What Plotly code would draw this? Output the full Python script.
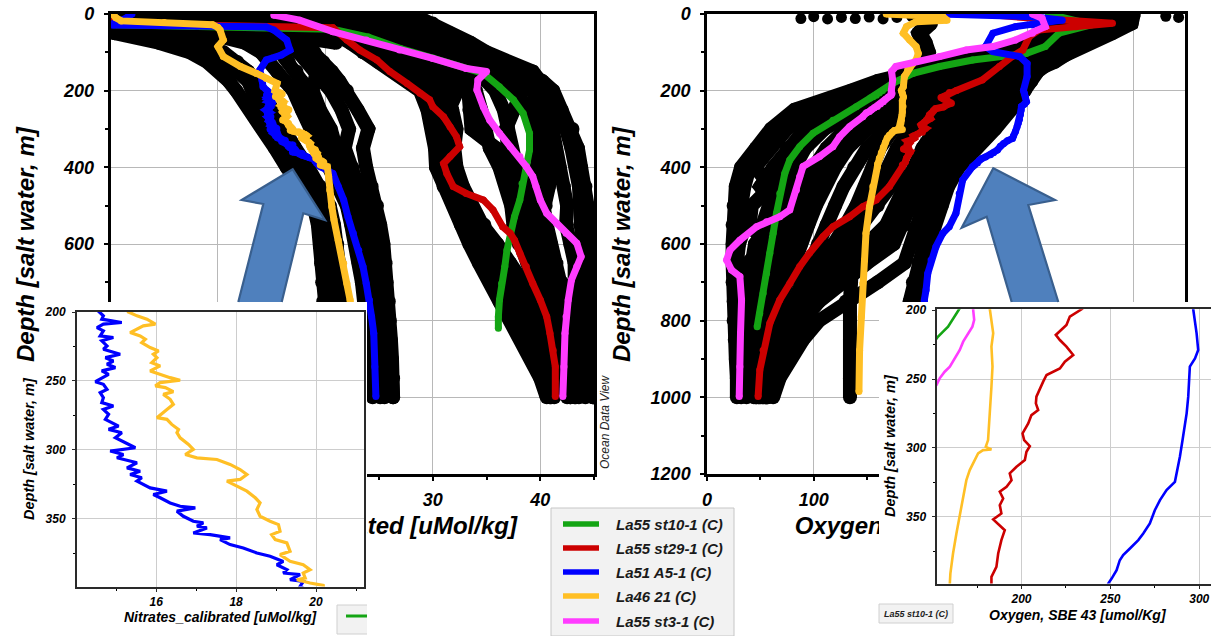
import plotly.graph_objects as go

# ============================================================
# Station profiles, left panel: nitrate (uMol/kg) vs depth (m)
# ============================================================
NO3_GREEN_D = [28, 32, 36, 40, 60, 90, 115, 142, 155, 190, 224, 259, 311, 355, 398, 442,
               485, 529, 572, 616, 659, 703, 746, 790, 820]
NO3_GREEN = [0.5, 8.0, 17.6, 20.7, 24.0, 27.0, 30.0, 33.1, 34.7, 36.2, 37.5, 38.4, 39.0, 39.0,
             38.7, 38.3, 38.1, 37.6, 37.2, 36.9, 36.7, 36.4, 36.2, 36.1, 36.1]

NO3_RED_D = [10, 25, 30, 36, 68, 94, 120, 150, 181, 207, 224, 242, 268, 294, 320, 346, 372,
             390, 416, 450, 468, 485, 511, 555, 572, 590, 624, 659, 703, 746, 790, 833, 877,
             920, 998]
NO3_RED = [0.3, 1.0, 10.0, 20.7, 22.0, 23.2, 24.8, 26.0, 27.6, 28.8, 29.7, 30.0, 31.0, 31.6,
           32.2, 32.5, 31.6, 31.0, 31.3, 31.9, 33.1, 34.7, 35.6, 36.5, 37.2, 37.6, 38.1, 38.7,
           39.3, 40.0, 40.6, 40.9, 41.2, 41.4, 41.4]

NO3_BLUE_TOP_D = [0, 10, 25, 29, 31, 34, 42, 68, 94, 107, 120, 146, 172, 190]
NO3_BLUE_TOP = [2.0, 1.5, 0.3, 0.3, 8.0, 14.5, 15.2, 16.4, 16.7, 15.9, 14.5, 13.9, 14.1, 14.2]
NO3_BLUE_MID_D = [200.0, 202.8, 205.2, 207.6, 208.8, 211.3, 213.7, 217.3, 218.5, 220.9,
                  224.6, 227.0, 230.6, 233.1, 235.5, 237.9, 240.3, 242.7, 245.2, 250.5,
                  252.4, 256.1, 258.5, 262.1, 265.7, 268.2, 270.6, 274.2, 277.8, 280.3,
                  282.7, 285.1, 287.5, 291.2, 298.4, 300.8, 303.3, 305.7, 309.3, 313.0,
                  315.4, 317.8, 320.2, 322.6, 327.5, 329.9, 332.3, 334.7, 338.4, 340.8,
                  342.0, 344.4, 348.1, 351.7, 352.9, 355.3, 356.5, 360.2, 361.4, 363.8,
                  365.0, 368.6, 371.1, 374.7, 377.1, 380.8, 383.2, 386.8, 389.2, 390.4,
                  394.1, 395.3, 399.0]
NO3_BLUE_MID = [14.58, 14.68, 14.64, 15.14, 14.68, 14.52, 14.68, 14.60, 14.93, 14.64,
                14.77, 14.68, 15.10, 14.73, 14.93, 14.77, 14.98, 14.64, 14.81, 14.48,
                14.68, 14.77, 14.60, 14.68, 14.64, 14.93, 14.68, 14.81, 14.73, 14.89,
                15.06, 14.81, 15.14, 14.98, 15.48, 14.85, 15.18, 15.02, 15.52, 15.27,
                15.60, 15.35, 15.64, 15.52, 15.85, 16.27, 15.93, 16.10, 16.35, 16.60,
                16.98, 16.52, 16.68, 16.93, 17.18, 17.02, 17.27, 16.93, 17.35, 17.85,
                17.60, 17.85, 18.18, 18.52, 18.85, 19.18, 19.02, 19.27, 19.18, 19.60,
                19.35, 19.68, 19.60]
NO3_BLUE_DEEP_D = [416, 450, 485, 529, 572, 616, 659, 703, 746, 790, 833, 920, 998]
NO3_BLUE_DEEP = [20.7, 21.2, 21.7, 22.1, 22.6, 23.1, 23.5, 23.8, 24.1, 24.3, 24.5, 24.6, 24.7]

NO3_YELLOW_TOP_D = [0, 10, 18, 22, 28, 35, 42, 68, 85, 111, 137, 155, 168, 181]
NO3_YELLOW_TOP = [0.2, 0.5, 1.0, 5.0, 9.5, 10.0, 10.2, 10.5, 10.0, 10.5, 12.1, 13.6, 14.5, 15.5]
NO3_YELLOW_MID_D = [200.0, 202.8, 205.2, 208.8, 210.0, 214.9, 217.3, 219.7, 222.2, 225.8,
                    228.2, 230.6, 233.1, 236.7, 239.1, 242.7, 245.2, 247.6, 249.5, 251.2,
                    253.6, 254.8, 257.7, 259.7, 263.3, 266.9, 270.6, 276.6, 277.8, 281.5,
                    285.1, 287.5, 291.2, 296.0, 299.6, 303.3, 305.7, 306.9, 310.5, 314.2,
                    317.8, 321.4, 322.6, 326.3, 329.9, 334.7, 338.4, 343.2, 348.1, 351.7,
                    354.1, 359.0, 361.4, 365.0, 367.4, 373.5, 375.9, 380.8, 383.2, 386.8,
                    389.2, 392.9, 394.1, 396.5, 398.2]
NO3_YELLOW_MID = [15.31, 15.52, 15.77, 15.98, 15.68, 15.35, 15.60, 15.73, 15.64, 15.85,
                  16.06, 15.93, 16.02, 15.89, 16.10, 15.85, 16.10, 16.35, 16.60, 16.10,
                  15.98, 16.23, 16.43, 16.18, 16.35, 16.43, 16.27, 16.02, 16.27, 16.39,
                  16.56, 16.52, 16.60, 16.81, 16.93, 16.73, 17.02, 17.52, 17.85, 18.10,
                  18.27, 18.10, 17.77, 18.02, 18.27, 18.48, 18.60, 18.52, 18.60, 18.85,
                  19.06, 19.10, 18.89, 18.98, 19.27, 19.35, 19.10, 19.35, 19.68, 19.85,
                  19.68, 19.73, 19.52, 19.85, 20.18]
NO3_YELLOW_DEEP_D = [424, 459, 503, 537, 590, 650, 703, 746, 833, 920, 998]
NO3_YELLOW_DEEP = [20.3, 20.4, 20.6, 20.8, 21.2, 21.7, 22.0, 22.3, 22.6, 22.8, 22.9]

NO3_MAGENTA_D = [3, 16, 46, 68, 94, 116, 142, 150, 172, 198, 242, 277, 311, 346, 372, 398,
                 424, 450, 485, 520, 546, 572, 598, 633, 659, 694, 746, 790, 833, 920, 998]
NO3_MAGENTA = [15.2, 17.6, 20.7, 23.8, 26.9, 30.0, 33.1, 35.0, 34.2, 34.1, 34.7, 35.3, 36.2,
               37.2, 38.1, 38.7, 39.3, 39.6, 40.0, 40.6, 41.5, 42.4, 43.4, 43.8, 43.4, 42.9,
               42.6, 42.4, 42.3, 42.2, 42.1]

# ============================================================
# Station profiles, right panel: oxygen (umol/kg) vs depth (m)
# ============================================================
O2_GREEN_TOP_D = [0, 15, 28, 50, 85, 103, 111, 120, 137, 155, 181]
O2_GREEN_TOP = [320, 340, 361, 330, 317, 299, 274, 249, 218, 193, 174]
O2_GREEN_MID_D = [200.4, 205.9, 212.0, 215.6, 219.2]
O2_GREEN_MID = [164.4, 161.5, 158.7, 155.9, 153.1]
O2_GREEN_DEEP_D = [242, 277, 311, 346, 381, 416, 468, 520, 572, 624, 677, 729, 781, 816]
O2_GREEN_DEEP = [139.9, 118.0, 99.4, 86.9, 77.6, 72.9, 68.2, 65.1, 62.0, 58.9, 55.8, 52.6,
                 49.5, 47.0]

O2_RED_TOP_D = [0, 10, 24, 33, 42, 59, 94, 111, 137, 172]
O2_RED_TOP = [258, 300, 380, 346, 311, 302, 296, 286, 274, 258]
O2_RED_MID_D = [199.4, 204.7, 210.8, 214.4, 218.0, 221.7, 226.5, 232.6, 237.4, 242.3,
                247.1, 251.9, 258.0, 262.8, 267.7, 272.5, 276.2, 282.2, 289.5, 294.3,
                298.7, 302.8, 308.8, 313.7, 318.5, 323.4, 328.2, 331.8, 336.7, 341.5,
                347.6, 351.9, 359.7, 366.9, 376.6, 386.3, 393.6, 398.4]
O2_RED_MID = [233.8, 227.2, 225.3, 222.5, 219.3, 221.6, 225.3, 229.1, 224.4, 221.6,
              214.1, 212.2, 210.3, 208.4, 208.1, 209.4, 205.6, 203.8, 200.6, 201.5,
              204.7, 202.8, 201.9, 197.2, 193.4, 194.4, 191.6, 187.8, 189.7, 187.8,
              188.7, 184.1, 190.6, 188.7, 186.9, 185.9, 183.1, 183.1]
O2_RED_DEEP_D = [450, 485, 503, 529, 555, 581, 624, 659, 703, 746, 807, 877, 929, 998]
O2_RED_DEEP = [171.0, 158.6, 146.0, 133.6, 118.0, 108.7, 96.0, 86.9, 77.6, 68.2, 58.9, 52.6,
               49.5, 47.9]

O2_BLUE_TOP_D = [0, 7, 16, 29, 33, 50, 85, 98, 111, 129, 163]
O2_BLUE_TOP = [218, 305, 333, 305, 289, 268, 261, 268, 293, 300, 300]
O2_BLUE_MID_D = [199.4, 207.1, 216.8, 228.9, 235.0, 241.0, 250.7, 262.8, 274.9, 284.6,
                 294.3, 306.4, 318.5, 324.6, 330.6, 337.9, 345.2, 354.8, 362.1, 366.9,
                 373.0, 377.8, 381.5, 388.7, 394.8, 398.4]
O2_BLUE_MID = [296.6, 297.6, 298.5, 299.4, 297.6, 294.7, 294.4, 293.8, 292.9, 291.9,
               290.6, 289.1, 287.2, 286.3, 281.6, 277.9, 275.0, 272.2, 268.5, 265.7,
               261.0, 257.2, 255.3, 253.5, 250.7, 248.8]
O2_BLUE_DEEP_D = [433, 468, 520, 555, 572, 607, 642, 677, 720, 746, 833, 920, 998]
O2_BLUE_DEEP = [239.6, 236.4, 233.3, 227.0, 221.0, 214.6, 210.0, 206.9, 205.3, 203.7, 202.0,
                201.5, 200.6]

O2_YELLOW_TOP_D = [0, 7, 16, 20, 33, 50, 68, 85, 103, 120, 129, 146, 163, 190]
O2_YELLOW_TOP = [168, 221, 225, 196, 187, 184, 190, 196, 198, 196, 193, 188, 185, 184]
O2_YELLOW_MID_D = [199.4, 207.1, 216.8, 226.5, 241.0, 255.6, 265.3, 277.4, 284.6, 294.3,
                   299.2, 301.1, 301.6, 304.0, 308.8, 316.1, 323.4, 335.5, 347.6, 362.1,
                   376.6, 391.2, 398.4]
O2_YELLOW_MID = [182.2, 183.1, 184.1, 183.1, 183.7, 183.1, 182.7, 182.2, 181.8, 181.2,
                 179.9, 183.1, 178.4, 175.6, 173.7, 170.9, 169.0, 167.2, 165.3, 163.4,
                 161.5, 160.0, 159.7]
O2_YELLOW_DEEP_D = [450, 503, 572, 642, 703, 790, 877, 985]
O2_YELLOW_DEEP = [155.4, 152.3, 149.0, 147.7, 146.0, 144.6, 143.0, 142.4]

O2_MAGENTA_TOP_D = [0, 11, 33, 50, 68, 85, 94, 111, 124, 137, 150, 172]
O2_MAGENTA_TOP = [305, 314, 317, 305, 289, 268, 243, 218, 196, 177, 173, 174]
O2_MAGENTA_MID_D = [199.4, 207.1, 212.0, 216.8, 222.9, 228.9, 235.0, 241.0, 244.7, 249.5,
                    254.4, 258.0]
O2_MAGENTA_MID = [172.8, 173.4, 172.4, 170.0, 167.2, 165.3, 162.5, 159.7, 156.8, 154.0,
                  152.2, 149.3]
O2_MAGENTA_DEEP_D = [268, 294, 320, 346, 372, 398, 424, 459, 511, 529, 542, 555, 590, 616,
                     642, 668, 685, 746, 833, 920, 998]
O2_MAGENTA_DEEP = [146.0, 133.6, 124.3, 118.0, 105.5, 90.0, 86.9, 83.8, 77.6, 68.2, 55.8,
                   46.4, 30.8, 21.5, 18.4, 23.0, 30.8, 32.4, 31.4, 30.8, 30.2]

# ============================================================
# Other stations of the collection (drawn in black)
# ============================================================
GRID_DEPTH = [0, 25, 50, 75, 100, 125, 150, 175, 200, 250, 300, 350, 400, 450, 500, 550,
              600, 650, 700, 750, 800, 850, 900, 950, 1000]

# nitrate, low-nitrate group
NO3_BG_A1 = [0.1, 0.2, 0.4, 4.5, 7.4, 9.0, 10.2, 11.0, 11.7, 13.0, 14.2, 15.3, 16.4, 17.7,
             18.9, 19.3, 19.5, 19.6, 19.7, 19.8, 20.0, 20.2, 20.4, 20.6, 20.8]
NO3_BG_A2 = [0.3, 1.0, 3.0, 8.0, 10.5, 11.8, 12.8, 13.5, 14.0, 15.0, 16.0, 17.2, 18.4, 19.5,
             20.4, 20.8, 21.1, 21.3, 21.5, 21.7, 21.9, 22.1, 22.3, 22.5, 22.7]
NO3_BG_A3 = [0.6, 3.0, 9.0, 12.5, 14.0, 14.8, 15.5, 16.2, 17.0, 17.8, 18.6, 19.5, 20.5, 21.3,
             22.0, 22.4, 22.8, 23.1, 23.4, 23.6, 23.8, 24.0, 24.2, 24.3, 24.4]
NO3_BG_A4 = [1.2, 6.0, 13.0, 16.0, 17.5, 18.3, 19.0, 19.8, 20.5, 21.5, 22.2, 21.8, 22.5, 23.2,
             23.8, 24.3, 24.7, 25.0, 25.3, 25.5, 25.8, 26.0, 26.1, 26.2, 26.3]
NO3_BG_A5 = [2.0, 9.0, 16.0, 18.0, 19.0, 19.8, 20.6, 21.3, 22.0, 23.0, 24.0, 23.5, 23.8, 24.3,
             24.8, 25.1, 25.4, 25.6, 25.7, 25.9, 26.0, 26.1, 26.2, 26.3, 26.3]
NO3_BG_A6 = [1.5, 7.0, 14.0, 17.0, 18.2, 18.8, 19.2, 19.0, 18.8, 19.5, 20.5, 21.0, 21.3, 22.0,
             22.8, 23.3, 23.8, 24.2, 24.5, 24.7, 25.0, 25.2, 25.3, 25.4, 25.5]
NO3_BG_A7 = [0.2, 0.5, 1.5, 6.0, 9.0, 10.8, 12.0, 12.8, 13.2, 14.2, 15.2, 16.3, 17.4, 18.6,
             19.7, 20.2, 20.4, 20.6, 20.7, 20.9, 21.0, 21.2, 21.4, 21.6, 21.8]
NO3_BG_A8 = [0.8, 4.5, 11.0, 14.5, 15.8, 16.6, 17.3, 17.8, 18.2, 18.8, 19.5, 20.3, 21.5, 22.3,
             23.0, 23.3, 23.6, 23.9, 24.1, 24.3, 24.5, 24.7, 24.9, 25.0, 25.1]
# nitrate, high-nitrate group
NO3_BG_B1 = [5.0, 14.0, 20.7, 22.3, 23.5, 24.9, 26.3, 27.6, 28.8, 29.5, 30.0, 30.2, 30.3, 31.0,
             31.9, 32.6, 33.4, 34.3, 35.3, 36.2, 37.2, 38.2, 39.3, 40.0, 40.6]
NO3_BG_B2 = [10.0, 20.0, 24.0, 25.5, 26.8, 28.0, 29.2, 30.2, 31.0, 31.8, 32.2, 32.0, 32.2,
             32.8, 33.6, 34.5, 35.5, 36.5, 37.5, 38.5, 39.3, 40.0, 40.6, 41.0, 41.3]
NO3_BG_B3 = [15.0, 24.0, 27.0, 28.5, 29.8, 31.0, 32.2, 33.2, 34.0, 34.5, 34.8, 35.3, 36.2,
             36.8, 37.3, 37.5, 38.0, 38.8, 39.5, 40.3, 41.0, 41.5, 42.0, 42.3, 42.5]
NO3_BG_B4 = [20.0, 27.0, 29.5, 31.0, 32.5, 34.0, 35.5, 36.8, 37.8, 38.8, 39.3, 39.5, 39.6,
             40.0, 40.3, 40.6, 41.0, 41.5, 42.0, 42.5, 42.8, 43.1, 43.3, 43.5, 43.6]
NO3_BG_B5 = [25.0, 29.0, 31.0, 32.8, 34.5, 36.5, 38.5, 39.8, 40.6, 41.5, 42.4, 42.9, 43.4,
             43.6, 43.7, 43.7, 43.7, 44.0, 44.3, 44.6, 44.9, 44.9, 44.9, 44.9, 44.9]
NO3_BG_B6 = [28.0, 30.0, 31.6, 33.5, 35.0, 37.0, 39.3, 40.0, 40.0, 40.8, 41.2, 41.3, 41.8,
             42.2, 42.5, 42.4, 42.8, 43.2, 43.2, 43.5, 43.6, 43.8, 44.0, 44.1, 44.2]
NO3_BG_B7 = [12.0, 22.0, 26.0, 27.5, 28.6, 29.6, 30.6, 31.5, 32.3, 31.5, 31.0, 31.2, 31.5,
             32.0, 33.2, 34.8, 36.0, 37.2, 38.4, 39.2, 39.8, 40.2, 40.5, 40.8, 41.0]
NO3_BG_B8 = [22.0, 28.0, 30.5, 32.0, 33.5, 35.2, 37.0, 38.5, 39.3, 40.0, 40.5, 40.8, 41.0,
             40.8, 40.5, 40.0, 39.6, 40.0, 40.6, 41.2, 41.8, 42.3, 42.7, 43.0, 43.2]
NO3_BG_B9 = [8.0, 17.0, 22.0, 24.0, 25.2, 26.5, 27.8, 29.0, 30.0, 30.5, 30.8, 31.0, 31.0,
             31.5, 32.5, 33.5, 34.5, 35.5, 36.5, 37.5, 38.3, 39.0, 39.8, 40.4, 40.9]
NO3_BG_B10 = [18.0, 25.5, 28.3, 29.8, 31.2, 32.5, 33.8, 35.0, 35.8, 36.6, 37.0, 37.3, 37.8,
              38.5, 39.0, 39.0, 39.0, 39.5, 40.2, 41.0, 41.6, 42.0, 42.4, 42.6, 42.8]
NO3_BG_B11 = [26.0, 29.5, 31.3, 33.0, 34.8, 36.8, 38.8, 40.2, 41.2, 42.0, 43.0, 43.5, 43.8,
              44.2, 44.4, 44.5, 44.5, 44.6, 44.7, 44.8, 44.9, 44.9, 44.9, 44.9, 44.9]
NO3_BG_B12 = [14.0, 22.5, 26.5, 28.2, 29.4, 30.6, 31.8, 32.8, 33.3, 33.4, 33.6, 35.9, 37.0,
              37.6, 38.0, 38.3, 38.8, 39.5, 40.2, 40.8, 41.4, 41.9, 42.3, 42.6, 42.8]
NO3_BG_B13 = [21.0, 27.5, 30.0, 31.6, 33.0, 34.6, 36.2, 37.4, 38.3, 37.6, 36.8, 37.0, 38.2,
              38.9, 39.4, 39.8, 40.2, 40.8, 41.3, 41.8, 42.2, 42.6, 42.9, 43.1, 43.3]
# nitrate, shallow casts (mixed layer)
NO3_SURF1_D = [0, 40, 48, 52, 56, 62, 75]
NO3_SURF1 = [0.1, 0.2, 4.0, 9.0, 14.0, 18.0, 21.0]
NO3_SURF2_D = [0, 30, 36, 40, 44, 50, 65]
NO3_SURF2 = [0.2, 0.3, 7.0, 14.0, 20.0, 24.0, 27.0]
NO3_SURF3_D = [0, 8, 12, 15, 18, 24, 40]
NO3_SURF3 = [0.3, 0.4, 8.0, 15.0, 22.0, 27.0, 30.0]

# oxygen
O2_BG_A = [330, 330, 320, 300, 270, 230, 190, 160, 135, 82, 60, 46, 32, 27, 25, 24, 24, 24,
           24, 25, 25, 26, 27, 28, 28]
O2_BG_B = [340, 340, 330, 310, 285, 245, 205, 175, 150, 100, 75, 60, 45, 60, 42, 40, 55, 38,
           30, 30, 31, 33, 35, 36, 37]
O2_BG_C = [345, 345, 335, 320, 300, 262, 220, 190, 165, 120, 92, 75, 62, 50, 66, 58, 45, 42,
           40, 40, 41, 42, 44, 45, 46]
O2_BG_D = [350, 350, 340, 328, 312, 275, 232, 200, 178, 140, 110, 92, 82, 78, 72, 68, 64, 61,
           58, 55, 52, 50, 48, 47, 46]
O2_BG_E = [352, 352, 345, 335, 320, 290, 250, 220, 195, 158, 130, 112, 100, 92, 85, 80, 75,
           70, 66, 62, 58, 55, 52, 50, 48]
O2_BG_F = [355, 355, 350, 340, 328, 305, 270, 240, 215, 178, 150, 132, 120, 110, 102, 95, 88,
           80, 74, 68, 62, 58, 55, 52, 50]
O2_BG_G = [360, 360, 352, 345, 335, 315, 288, 260, 232, 195, 168, 150, 138, 128, 120, 112,
           104, 96, 88, 80, 72, 66, 60, 56, 53]
O2_BG_H = [362, 362, 355, 348, 338, 322, 300, 272, 248, 212, 175, 162, 155, 148, 140, 130,
           118, 106, 96, 88, 80, 72, 65, 60, 56]
O2_BG_I = [200, 205, 198, 200, 205, 200, 198, 195, 192, 188, 186, 184, 180, 172, 160, 145,
           137, 135, 135, 134, 134, 134, 134, 134, 134]
O2_BG_J = [None, 210, 200, 205, 208, 205, 210, 208, 205, 207, 212, 213, 210, 208, 206, 204,
           203, 202, 201, 200, 199, 198, 197, 196, 195]
O2_BG_K = [370, 372, 350, 330, 315, 300, 290, 280, 262, 228, 214, 202, 194, 186, 178, 168,
           150, 125, 105, 90, 78, 68, 60, 55, 52]
O2_BG_L = [380, 385, 360, 338, 322, 308, 298, 290, 280, 245, 226, 214, 206, 199, 192, 185,
           175, 150, 125, 105, 90, 78, 68, 60, 56]
O2_BG_M = [390, 390, 368, 345, 330, 315, 305, 298, 290, 262, 240, 226, 216, 209, 203, 198,
           192, 185, 160, 130, 105, 90, 78, 68, 62]
O2_BG_N = [398, 395, 375, 352, 336, 320, 308, 302, 296, 275, 256, 240, 228, 220, 214, 208,
           203, 198, 193, 190, 188, 186, 185, 184, 183]
O2_BG_O = [400, 398, 380, 358, 340, 322, 310, 304, 298, 285, 270, 252, 236, 226, 220, 212,
           206, 202, 199, 197, 195, 193, 192, 191, 190]
O2_BG_P = [385, 380, 362, 340, 326, 312, 300, 288, 272, 236, 218, 206, 198, 192, 186, 178,
           165, 140, 118, 100, 86, 74, 66, 60, 55]
O2_BG_Q = [366, 366, 358, 350, 340, 326, 308, 285, 262, 222, 190, 178, 170, 160, 152, 140,
           128, 114, 104, 94, 84, 76, 68, 62, 57]
O2_BG_R = [335, 335, 325, 305, 278, 238, 198, 168, 142, 92, 68, 52, 40, 35, 32, 36, 30, 28,
           27, 27, 28, 29, 30, 31, 32]
O2_BG_S = [348, 348, 338, 324, 306, 268, 226, 195, 172, 130, 100, 84, 72, 64, 58, 52, 50, 48,
           46, 45, 45, 44, 44, 44, 44]
O2_BG_T = [356, 356, 348, 338, 324, 298, 260, 230, 205, 168, 140, 122, 110, 101, 93, 87, 81,
           75, 70, 65, 60, 56, 53, 51, 49]
# isolated near-surface samples
O2_SURF_DOTS = [88, 100, 113, 126, 139, 152, 165, 178, 192, 375, 388, 400, 430, 442]
O2_SURF_DOTS_D = [12, 7, 13, 9, 12, 8, 13, 9, 7, 6, 9, 5, 6, 9]

STATIONS = ["La55 st10-1 (C)", "La55 st29-1 (C)", "La51 A5-1 (C)", "La46 21 (C)",
            "La55 st3-1 (C)"]

# ------------------------------------------------------------
W, H = 1211, 636
FONT = "Liberation Sans, Arial, Helvetica, sans-serif"
GREEN, RED, BLUE, YELLOW, MAGENTA = "#14a514", "#cc0000", "#0000ff", "#ffbf25", "#ff3cff"
COLORS = [GREEN, RED, BLUE, YELLOW, MAGENTA]


def px(x):
    return x / W


def py(y):
    return 1 - y / H


def bi(size, color="black"):
    return dict(family=FONT, size=size, color=color, weight="bold", style="italic")


fig = go.Figure()


def add_background(vals, depths, xa, ya, width):
    fig.add_trace(go.Scatter(
        x=vals, y=depths, xaxis=xa, yaxis=ya, mode="lines+markers",
        line=dict(color="black", width=width), marker=dict(color="black", size=width),
        hoverinfo="skip", showlegend=False))


def add_station(vals, depths, color, name, xa, ya, width, markers):
    fig.add_trace(go.Scatter(
        x=vals, y=depths, xaxis=xa, yaxis=ya, name=name,
        mode="lines+markers" if markers else "lines",
        line=dict(color=color, width=width),
        marker=dict(color=color, size=width),
        hoverinfo="skip", showlegend=False))


# ---- left panel: background casts ----
for prof in [NO3_BG_A1, NO3_BG_A2, NO3_BG_A3, NO3_BG_A4, NO3_BG_A5, NO3_BG_A6, NO3_BG_A7,
             NO3_BG_A8, NO3_BG_B1, NO3_BG_B2, NO3_BG_B3, NO3_BG_B4, NO3_BG_B5, NO3_BG_B6,
             NO3_BG_B7, NO3_BG_B8, NO3_BG_B9, NO3_BG_B10, NO3_BG_B11, NO3_BG_B12,
             NO3_BG_B13]:
    add_background(prof, GRID_DEPTH, "x", "y", 14)
for vals, dep in [(NO3_SURF1, NO3_SURF1_D), (NO3_SURF2, NO3_SURF2_D),
                  (NO3_SURF3, NO3_SURF3_D)]:
    add_background(vals, dep, "x", "y", 14)

# ---- right panel: background casts ----
for prof in [O2_BG_A, O2_BG_B, O2_BG_C, O2_BG_D, O2_BG_E, O2_BG_F, O2_BG_G, O2_BG_H,
             O2_BG_I, O2_BG_J, O2_BG_K, O2_BG_L, O2_BG_M, O2_BG_N, O2_BG_O, O2_BG_P,
             O2_BG_Q, O2_BG_R, O2_BG_S, O2_BG_T]:
    add_background(prof, GRID_DEPTH, "x2", "y2", 14)
fig.add_trace(go.Scatter(x=O2_SURF_DOTS, y=O2_SURF_DOTS_D, xaxis="x2", yaxis="y2",
                         mode="markers", marker=dict(color="black", size=11),
                         hoverinfo="skip", showlegend=False))

# ---- highlighted stations, full profiles ----
no3_blue = NO3_BLUE_TOP + NO3_BLUE_MID + NO3_BLUE_DEEP
no3_blue_d = NO3_BLUE_TOP_D + NO3_BLUE_MID_D + NO3_BLUE_DEEP_D
no3_yel = NO3_YELLOW_TOP + NO3_YELLOW_MID + NO3_YELLOW_DEEP
no3_yel_d = NO3_YELLOW_TOP_D + NO3_YELLOW_MID_D + NO3_YELLOW_DEEP_D

left_sets = [(NO3_GREEN, NO3_GREEN_D), (NO3_RED, NO3_RED_D), (no3_blue, no3_blue_d),
             (no3_yel, no3_yel_d), (NO3_MAGENTA, NO3_MAGENTA_D)]

right_sets = [
    (O2_GREEN_TOP + O2_GREEN_MID + O2_GREEN_DEEP,
     O2_GREEN_TOP_D + O2_GREEN_MID_D + O2_GREEN_DEEP_D),
    (O2_RED_TOP + O2_RED_MID + O2_RED_DEEP, O2_RED_TOP_D + O2_RED_MID_D + O2_RED_DEEP_D),
    (O2_BLUE_TOP + O2_BLUE_MID + O2_BLUE_DEEP,
     O2_BLUE_TOP_D + O2_BLUE_MID_D + O2_BLUE_DEEP_D),
    (O2_YELLOW_TOP + O2_YELLOW_MID + O2_YELLOW_DEEP,
     O2_YELLOW_TOP_D + O2_YELLOW_MID_D + O2_YELLOW_DEEP_D),
    (O2_MAGENTA_TOP + O2_MAGENTA_MID + O2_MAGENTA_DEEP,
     O2_MAGENTA_TOP_D + O2_MAGENTA_MID_D + O2_MAGENTA_DEEP_D),
]

for (vals, dep), col, name in zip(left_sets, COLORS, STATIONS):
    add_station(vals, dep, col, name, "x", "y", 7, True)
for (vals, dep), col, name in zip(right_sets, COLORS, STATIONS):
    add_station(vals, dep, col, name, "x2", "y2", 7, True)

# placeholders so the title strips and the white inset backings get their own subplots
for k in (3, 4, 5, 6):
    fig.add_trace(go.Scatter(x=[None], y=[None], xaxis=f"x{k}", yaxis=f"y{k}",
                             mode="markers", hoverinfo="skip", showlegend=False))

# ---- zoomed 200-400 m insets ----
add_station(no3_blue, no3_blue_d, BLUE, STATIONS[2], "x7", "y7", 3.2, False)
add_station(no3_yel, no3_yel_d, YELLOW, STATIONS[3], "x7", "y7", 3.2, False)
for idx in [0, 4, 3, 1, 2]:
    vals, dep = right_sets[idx]
    add_station(vals, dep, COLORS[idx], STATIONS[idx], "x8", "y8", 2.6, False)

# ---------------- axes ----------------
main_ax = dict(showline=True, linecolor="black", linewidth=2.5, mirror=True,
               showgrid=True, gridcolor="#b8b8b8", gridwidth=1, zeroline=False,
               ticks="outside", ticklen=4, tickwidth=1.5, tickcolor="black",
               tickfont=bi(18), fixedrange=True, automargin=False)
inset_ax = dict(showline=True, linecolor="#2a2a2a", linewidth=2, showgrid=True,
                gridcolor="#cdcdcd", gridwidth=1, zeroline=False, ticks="outside",
                ticklen=3, tickwidth=1, tickcolor="#2a2a2a", tickfont=bi(12),
                fixedrange=True, automargin=False)
hidden = dict(visible=False, range=[0, 1], fixedrange=True, automargin=False)
title_ax = dict(range=[0, 1], tickmode="array", tickvals=[0.5], showgrid=False,
                zeroline=False, showline=False, ticks="", tickfont=bi(24), fixedrange=True,
                automargin=False)


def minor(step, length=3):
    return dict(dtick=step, ticks="outside", ticklen=length, tickcolor="black",
                showgrid=False)


main_top, main_bot = py(14), py(474)

fig.update_layout(
    width=W, height=H, autosize=False,
    margin=dict(l=0, r=0, t=0, b=0, pad=0, autoexpand=False),
    paper_bgcolor="white", plot_bgcolor="white", showlegend=False,
    # main panels
    xaxis=dict(main_ax, domain=[px(110.5), px(594)], range=[0, 45], tick0=0, dtick=10,
               minor=minor(5), anchor="y", ticklabelstandoff=4),
    yaxis=dict(main_ax, domain=[main_bot, main_top], range=[1200, 0], tick0=0, dtick=200,
               minor=minor(100), anchor="x", ticklabelstandoff=6),
    xaxis2=dict(main_ax, domain=[px(707), px(1185)], range=[0, 448], tick0=0, dtick=100,
                minor=minor(50), anchor="y2", ticklabelstandoff=4),
    yaxis2=dict(main_ax, domain=[main_bot, main_top], range=[1200, 0], tick0=0, dtick=200,
                minor=minor(100), anchor="x2", ticklabelstandoff=6),
    # x-axis titles of the main panels
    xaxis3=dict(title_ax, domain=[px(110.5), px(594)], anchor="y3",
                ticktext=["Nitrates_calibrated [uMol/kg]"]),
    yaxis3=dict(hidden, domain=[py(509), py(505)], anchor="x3"),
    xaxis4=dict(title_ax, domain=[px(707), px(1185)], anchor="y4",
                ticktext=["Oxygen, SBE 43 [umol/Kg]"]),
    yaxis4=dict(hidden, domain=[py(509), py(505)], anchor="x4"),
    # white backing of the two inset frames
    xaxis5=dict(hidden, domain=[px(40), px(367)], anchor="y5"),
    yaxis5=dict(hidden, domain=[0, py(302)], anchor="x5"),
    xaxis6=dict(hidden, domain=[px(879), 1.0], anchor="y6"),
    yaxis6=dict(hidden, domain=[0, py(302)], anchor="x6"),
    # insets
    xaxis7=dict(inset_ax, domain=[px(77), px(364)], range=[14.02, 21.2], tick0=0, dtick=2,
                minor=minor(1, 2), mirror=True, anchor="y7", ticklabelstandoff=0),
    yaxis7=dict(inset_ax, domain=[py(586.5), py(312)], range=[399, 200], tick0=0, dtick=50,
                minor=minor(25, 2), mirror=True, anchor="x7", ticklabelstandoff=4),
    xaxis8=dict(inset_ax, domain=[px(936.5), 1.0], range=[152.2, 306.6], tick0=0, dtick=50,
                minor=minor(25, 2), mirror=True, anchor="y8", ticklabelstandoff=0),
    yaxis8=dict(inset_ax, domain=[py(583.5), py(309.3)], range=[398.4, 199.4], tick0=0,
                dtick=50, minor=minor(25, 2), mirror=False, anchor="x8",
                ticklabelstandoff=3),
)

# ---------------- text ----------------
ann = [
    dict(x=px(25), y=py(244), text="Depth [salt water, m]", textangle=-90, font=bi(24)),
    dict(x=px(621), y=py(244), text="Depth [salt water, m]", textangle=-90, font=bi(24)),
    dict(x=px(605), y=py(422), text="Ocean Data View", textangle=-90,
         font=dict(family=FONT, size=12, color="#222", style="italic")),
    dict(x=px(29), y=py(449), text="Depth [salt water, m]", textangle=-90, font=bi(14.5)),
    dict(x=px(220), y=py(617), text="Nitrates_calibrated [uMol/kg]", font=bi(14)),
    dict(x=px(890), y=py(446), text="Depth [salt water, m]", textangle=-90, font=bi(14.5)),
    dict(x=px(1078), y=py(615), text="Oxygen, SBE 43 [umol/Kg]", font=bi(14)),
    dict(x=px(882), y=py(613.5), text=STATIONS[0], xanchor="left", font=bi(9, "#222")),
]
LEGEND_ROWS = [524, 548, 572, 596, 621]
for name, row in zip(STATIONS, LEGEND_ROWS):
    ann.append(dict(x=px(614), y=py(row), text=name, xanchor="left", font=bi(15, "#1a1a1a")))
for a in ann:
    a.update(xref="paper", yref="paper", showarrow=False)
    a.setdefault("xanchor", "center")
    a.setdefault("yanchor", "middle")
fig.update_layout(annotations=ann)

# ---------------- decorations ----------------


def path(points, close):
    s = "M " + " L ".join(f"{px(x):.5f},{py(y):.5f}" for x, y in points)
    return s + (" Z" if close else "")


ARROW_FILL = "#4f80bd"
ARROW_EDGE = "#395f8e"
left_arrow = [(292.7, 169.3), (325, 220), (303.3, 213.3), (281.7, 302), (238.3, 302),
              (263.3, 204), (241.7, 200)]
right_arrow = [(993.3, 168.3), (1055, 200), (1028.3, 205), (1058.3, 302), (1011.7, 302),
               (986.7, 216.7), (961.7, 227.7)]

shapes = []
for arrow in (left_arrow, right_arrow):
    shapes.append(dict(type="path", path=path(arrow, True), fillcolor=ARROW_FILL,
                       line=dict(width=0)))
    edge = [arrow[3], arrow[2], arrow[1], arrow[0], arrow[6], arrow[5], arrow[4]]
    shapes.append(dict(type="path", path=path(edge, False),
                       line=dict(color=ARROW_EDGE, width=2.2), fillcolor="rgba(0,0,0,0)"))

# station key
shapes.append(dict(type="rect", x0=px(551), x1=px(734), y0=0, y1=py(508),
                   fillcolor="#f2f2f2", line=dict(color="#c6c6c6", width=1)))
for col, row in zip(COLORS, LEGEND_ROWS):
    shapes.append(dict(type="line", x0=px(563), x1=px(599), y0=py(row), y1=py(row),
                       line=dict(color=col, width=5.5)))

# partial keys of the insets
shapes.append(dict(type="rect", x0=px(337), x1=px(367), y0=py(634), y1=py(605),
                   fillcolor="#f2f2f2", line=dict(width=0)))
shapes.append(dict(type="path", path=path([(367, 605), (337, 605), (337, 634), (367, 634)], False),
                   line=dict(color="#d0d0d0", width=1)))
shapes.append(dict(type="line", x0=px(346), x1=px(367), y0=py(616), y1=py(616),
                   line=dict(color=GREEN, width=3)))
shapes.append(dict(type="rect", x0=px(879), x1=px(953), y0=py(623), y1=py(604),
                   fillcolor="#f2f2f2", line=dict(color="#d0d0d0", width=1)))
for s in shapes:
    s.update(xref="paper", yref="paper", layer="above")
fig.update_layout(shapes=shapes)

fig.write_html("out.html")
